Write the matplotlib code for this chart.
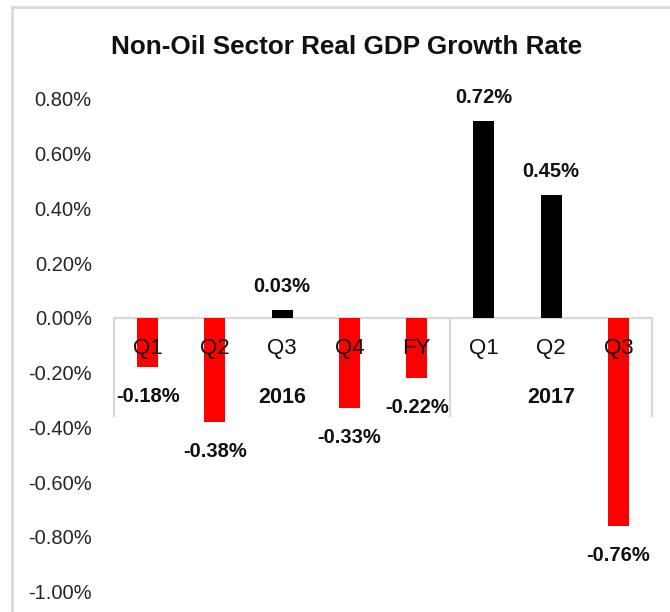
import matplotlib
matplotlib.use('Agg')
import matplotlib.pyplot as plt
from matplotlib.lines import Line2D
import numpy as np

# data
quarters = ['Q1', 'Q2', 'Q3', 'Q4', 'FY', 'Q1', 'Q2', 'Q3']
years = ['2016', '2017']
year_sizes = [5, 3]
growth = [-0.18, -0.38, 0.03, -0.33, -0.22, 0.72, 0.45, -0.76]
yticks = [0.8, 0.6, 0.4, 0.2, 0.0, -0.2, -0.4, -0.6, -0.8, -1.0]

plt.rcParams['font.family'] = ['Liberation Sans Narrow', 'Liberation Sans', 'DejaVu Sans']

fig = plt.figure(figsize=(6.7, 6.12), dpi=100)
ax = fig.add_axes([114 / 670, 1 - 591.6 / 612, (652 - 114) / 670, (591.6 - 99) / 612])

x = np.arange(len(growth))
colors = ['#ff0000' if v < 0 else '#000000' for v in growth]
ax.bar(x, growth, width=0.31, color=colors, zorder=2)

ax.set_xlim(-0.5, len(growth) - 0.5)
ax.set_ylim(-1.0, 0.8)
ax.set_yticks(yticks)
ax.set_yticklabels(['%.2f%%' % v for v in yticks], fontsize=14.5, color='#262626')
ax.tick_params(axis='y', length=0, pad=16)
ax.set_xticks([])
for s in ax.spines.values():
    s.set_visible(False)

# zero line and group separators
ax.axhline(0, color='#d9d9d9', lw=1.6, zorder=1)
edges = np.concatenate([[0], np.cumsum(year_sizes)]) - 0.5
for e in edges:
    ax.plot([e, e], [0, -0.36], color='#d9d9d9', lw=1.6, zorder=1, clip_on=False)

# value labels
for xi, v in zip(x, growth):
    off = 17 if v >= 0 else -21
    ax.annotate('%.2f%%' % v, (xi, v), xytext=(0, off), textcoords='offset points',
                ha='center', va='center', fontsize=14.5, fontweight='bold', color='#111111')

# category labels
for xi, q in zip(x, quarters):
    ax.text(xi, -0.11, q, ha='center', va='center', fontsize=16, color='#111111', zorder=3)

# year labels
for i, yr in enumerate(years):
    mid = (edges[i] + edges[i + 1]) / 2
    ax.text(mid, -0.29, yr, ha='center', va='center', fontsize=15.5, fontweight='bold', color='#111111')

fig.text(347 / 670, 1 - 47 / 612, 'Non-Oil Sector Real GDP Growth Rate',
         ha='center', va='center', fontsize=18.8, fontweight='bold', color='#111111')

# chart frame (left and top edges visible)
fig.add_artist(Line2D([12 / 670, 12 / 670], [0, 1 - 7 / 612], color='#d9d9d9', lw=2))
fig.add_artist(Line2D([12 / 670, 1], [1 - 7 / 612, 1 - 7 / 612], color='#d9d9d9', lw=2))

fig.savefig('out.png', dpi=100)
